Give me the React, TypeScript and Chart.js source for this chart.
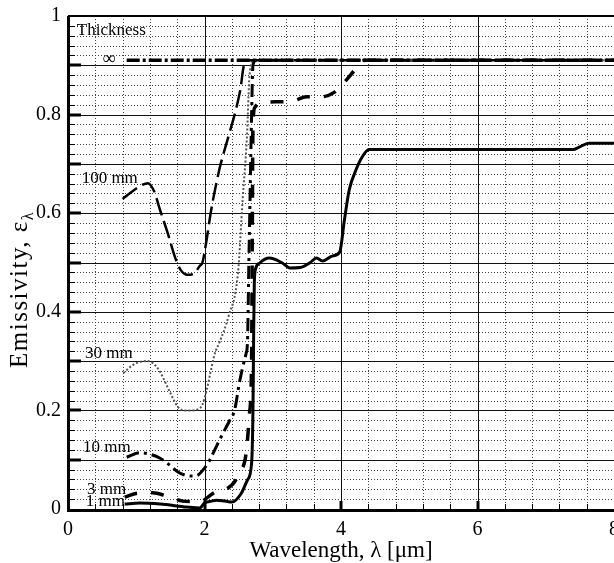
import React, { useEffect, useRef } from "react";
import { Chart, registerables } from "chart.js";

Chart.register(...registerables);

// Spectral emissivity of layers of different thickness vs wavelength (μm)
const wlInf = [0.86, 8.0];
const emInf = [0.91, 0.91];

const wl100 = [0.8, 0.95, 1.08, 1.17, 1.26, 1.35, 1.46, 1.57, 1.65, 1.75, 1.85, 1.93, 1.97, 2.03, 2.09, 2.22, 2.36, 2.46, 2.53, 2.57, 2.62, 8.0];
const em100 = [0.629, 0.645, 0.657, 0.661, 0.645, 0.606, 0.56, 0.51, 0.485, 0.475, 0.478, 0.493, 0.5, 0.545, 0.6, 0.69, 0.76, 0.81, 0.855, 0.895, 0.91, 0.91];

const wl30 = [0.81, 0.95, 1.08, 1.17, 1.26, 1.35, 1.49, 1.61, 1.7, 1.8, 1.9, 1.97, 2.03, 2.08, 2.15, 2.22, 2.35, 2.49, 2.56, 2.62, 2.66, 2.72, 8.0];
const em30 = [0.276, 0.292, 0.299, 0.3, 0.294, 0.278, 0.238, 0.207, 0.2, 0.2, 0.202, 0.212, 0.24, 0.272, 0.315, 0.338, 0.39, 0.478, 0.63, 0.75, 0.88, 0.91, 0.91];

const wl10 = [0.86, 1.05, 1.17, 1.35, 1.49, 1.61, 1.71, 1.8, 1.89, 2.0, 2.08, 2.15, 2.22, 2.37, 2.44, 2.51, 2.56, 2.61, 2.63, 2.65, 2.67, 2.69, 2.71, 2.75, 8.0];
const em10 = [0.105, 0.114, 0.112, 0.103, 0.089, 0.075, 0.069, 0.067, 0.068, 0.083, 0.1, 0.12, 0.14, 0.18, 0.2, 0.255, 0.288, 0.316, 0.34, 0.5, 0.65, 0.8, 0.9, 0.91, 0.91];

const wl3 = [0.83, 1.02, 1.24, 1.45, 1.68, 1.83, 1.95, 2.05, 2.15, 2.25, 2.35, 2.44, 2.51, 2.61, 2.66, 2.69, 2.7, 2.71, 2.74, 2.8, 3.1, 3.3, 3.5, 3.7, 3.9, 4.09, 4.2, 4.35, 8.0];
const em3 = [0.024, 0.032, 0.033, 0.026, 0.016, 0.015, 0.015, 0.024, 0.034, 0.037, 0.043, 0.055, 0.073, 0.113, 0.195, 0.3, 0.55, 0.78, 0.815, 0.823, 0.826, 0.828, 0.836, 0.836, 0.845, 0.872, 0.89, 0.91, 0.91];

const wl1 = [0.83, 1.05, 1.35, 1.74, 1.93, 2.0, 2.1, 2.18, 2.3, 2.4, 2.54, 2.63, 2.69, 2.71, 2.72, 2.73, 2.75, 2.81, 2.95, 3.14, 3.25, 3.4, 3.55, 3.64, 3.73, 3.87, 3.98, 4.05, 4.12, 4.22, 4.31, 4.41, 7.4, 7.49, 7.63, 8.0];
const em1 = [0.01, 0.012, 0.01, 0.004, 0.002, 0.012, 0.016, 0.018, 0.016, 0.014, 0.032, 0.059, 0.093, 0.2, 0.35, 0.46, 0.488, 0.499, 0.509, 0.499, 0.489, 0.49, 0.5, 0.509, 0.503, 0.513, 0.521, 0.586, 0.647, 0.688, 0.714, 0.729, 0.729, 0.734, 0.742, 0.742];

const xTicks = [0, 2, 4, 6, 8];
const yTicks = [0, 0.2, 0.4, 0.6, 0.8, 1];

// Curve captions, anchored in data units (left edge, baseline)
const captions = [
  { text: "Thickness", x: 0.13, y: 0.961 },
  { text: "100 mm", x: 0.2, y: 0.661 },
  { text: "30 mm", x: 0.25, y: 0.306 },
  { text: "10 mm", x: 0.22, y: 0.116 },
  { text: "3 mm", x: 0.28, y: 0.03 },
  { text: "1 mm", x: 0.26, y: 0.006 },
];
const infinityMark = { text: "∞", x: 0.6, y: 0.913 };

const FONT = "'Liberation Serif', 'Times New Roman', Times, serif";

const zip = (xs: number[], ys: number[]) => xs.map((x, i) => ({ x, y: ys[i] }));

const line = (label: string, xs: number[], ys: number[], width: number, dash: number[], color = "#000") => ({
  label,
  data: zip(xs, ys),
  borderColor: color,
  borderWidth: width,
  borderDash: dash,
  pointRadius: 0,
  fill: false,
  cubicInterpolationMode: "monotone" as const,
  borderCapStyle: "butt" as const,
});

const framePlugin = {
  id: "frame",
  beforeDatasetsDraw(chart: any) {
    const { ctx, chartArea: a, scales } = chart;
    const x = scales.x;
    const y = scales.y;
    const px = (v: number) => Math.round(x.getPixelForValue(v)) + 0.5;
    const py = (v: number) => Math.round(y.getPixelForValue(v)) + 0.5;
    ctx.save();
    // minor dotted grid
    ctx.strokeStyle = "#444";
    ctx.lineWidth = 1;
    ctx.setLineDash([1, 2]);
    ctx.beginPath();
    for (let i = 1; i < 50; i++) {
      if (i % 5 === 0) continue;
      const p = py(i * 0.02);
      ctx.moveTo(a.left, p);
      ctx.lineTo(a.right, p);
    }
    for (let i = 1; i < 20; i++) {
      if (i % 5 === 0) continue;
      const p = px(i * 0.4);
      ctx.moveTo(p, a.top);
      ctx.lineTo(p, a.bottom);
    }
    ctx.stroke();
    // major solid grid
    ctx.setLineDash([]);
    ctx.strokeStyle = "#111";
    ctx.beginPath();
    for (let i = 0; i < 10; i++) {
      const p = py(i * 0.1);
      ctx.moveTo(a.left, p);
      ctx.lineTo(a.right, p);
    }
    for (let v = 2; v < 8; v += 2) {
      const p = px(v);
      ctx.moveTo(p, a.top);
      ctx.lineTo(p, a.bottom);
    }
    ctx.stroke();
    ctx.restore();
  },
  afterDatasetsDraw(chart: any) {
    const { ctx, chartArea: a, scales } = chart;
    const x = scales.x;
    const y = scales.y;
    ctx.save();
    ctx.setLineDash([]);
    ctx.strokeStyle = "#000";
    // axes
    ctx.lineWidth = 3;
    ctx.beginPath();
    ctx.moveTo(a.left + 0.5, a.top);
    ctx.lineTo(a.left + 0.5, a.bottom + 3);
    ctx.moveTo(a.left - 1, a.bottom + 1.5);
    ctx.lineTo(a.right, a.bottom + 1.5);
    ctx.stroke();
    ctx.lineWidth = 2;
    ctx.beginPath();
    ctx.moveTo(a.left, a.top);
    ctx.lineTo(a.right, a.top);
    ctx.stroke();
    // left ticks
    for (let i = 1; i < 50; i++) {
      const major = i % 5 === 0;
      const p = Math.round(y.getPixelForValue(i * 0.02)) + (major ? 0 : 0.5);
      ctx.lineWidth = major ? 3 : 1;
      ctx.beginPath();
      ctx.moveTo(a.left, p);
      ctx.lineTo(a.left + (major ? 13 : 7), p);
      ctx.stroke();
    }
    // bottom ticks
    for (let i = 1; i < 20; i++) {
      const major = i % 5 === 0;
      const p = Math.round(x.getPixelForValue(i * 0.4)) + (major ? 0 : 0.5);
      ctx.lineWidth = major ? 3 : 1;
      ctx.beginPath();
      ctx.moveTo(p, a.bottom);
      ctx.lineTo(p, a.bottom - (major ? 8 : 5));
      ctx.stroke();
    }
    // captions
    ctx.fillStyle = "#000";
    ctx.textAlign = "left";
    ctx.textBaseline = "alphabetic";
    ctx.font = `17px ${FONT}`;
    for (const c of captions) {
      ctx.fillText(c.text, x.getPixelForValue(c.x), y.getPixelForValue(c.y));
    }
    ctx.font = `18px ${FONT}`;
    ctx.textAlign = "center";
    ctx.textBaseline = "middle";
    ctx.fillText(infinityMark.text, x.getPixelForValue(infinityMark.x), y.getPixelForValue(infinityMark.y));
    // x title
    ctx.font = `23px ${FONT}`;
    ctx.textAlign = "center";
    ctx.textBaseline = "alphabetic";
    ctx.fillText("Wavelength, λ [μm]", (a.left + a.right) / 2, 557);
    // y title with subscript
    ctx.translate(27, 368);
    ctx.rotate(-Math.PI / 2);
    ctx.textAlign = "left";
    ctx.font = `25px ${FONT}`;
    (ctx as any).letterSpacing = "1.5px";
    const main = "Emissivity, ε";
    ctx.fillText(main, 0, 0);
    const w = ctx.measureText(main).width;
    (ctx as any).letterSpacing = "0px";
    ctx.font = `16px ${FONT}`;
    ctx.fillText("λ", w, 6);
    ctx.restore();
  },
};

export default function App() {
  const ref = useRef<HTMLCanvasElement | null>(null);
  useEffect(() => {
    if (!ref.current) return;
    const chart = new Chart(ref.current, {
      type: "line",
      data: {
        datasets: [
          line("∞", wlInf, emInf, 3.5, [13, 3, 3, 3]),
          line("100 mm", wl100, em100, 2.5, [18, 6]),
          line("30 mm", wl30, em30, 2, [2, 2], "#555"),
          line("10 mm", wl10, em10, 3, [13, 5, 3, 5]),
          line("3 mm", wl3, em3, 3.5, [13, 14]),
          line("1 mm", wl1, em1, 3, []),
        ],
      },
      options: {
        animation: false,
        responsive: false,
        layout: { padding: { top: 16, left: 0, right: 0, bottom: 0 } },
        plugins: { legend: { display: false }, tooltip: { enabled: false } },
        scales: {
          x: {
            type: "linear",
            min: 0,
            max: 8,
            grid: { display: false, drawTicks: false },
            border: { display: false },
            afterBuildTicks: (s: any) => {
              s.ticks = xTicks.map((v) => ({ value: v }));
            },
            ticks: {
              color: "#000",
              font: { family: FONT, size: 20 },
              padding: 9,
              maxRotation: 0,
              autoSkip: false,
              callback: (v: any) => String(v),
            },
            afterFit: (s: any) => {
              s.height = 54;
              s.paddingLeft = 0;
              s.paddingRight = 0;
            },
          },
          y: {
            type: "linear",
            min: 0,
            max: 1,
            grid: { display: false, drawTicks: false },
            border: { display: false },
            afterBuildTicks: (s: any) => {
              s.ticks = yTicks.map((v) => ({ value: v }));
            },
            ticks: {
              color: "#000",
              font: { family: FONT, size: 20 },
              padding: 7,
              autoSkip: false,
              callback: (v: any) => String(v),
            },
            afterFit: (s: any) => {
              s.width = 68;
              s.paddingTop = 0;
              s.paddingBottom = 0;
            },
          },
        },
      },
      plugins: [framePlugin],
    });
    return () => chart.destroy();
  }, []);
  return (
    <canvas
      ref={ref}
      width={614}
      height={563}
      style={{ position: "absolute", left: 0, top: 0, width: 614, height: 563 }}
    />
  );
}
